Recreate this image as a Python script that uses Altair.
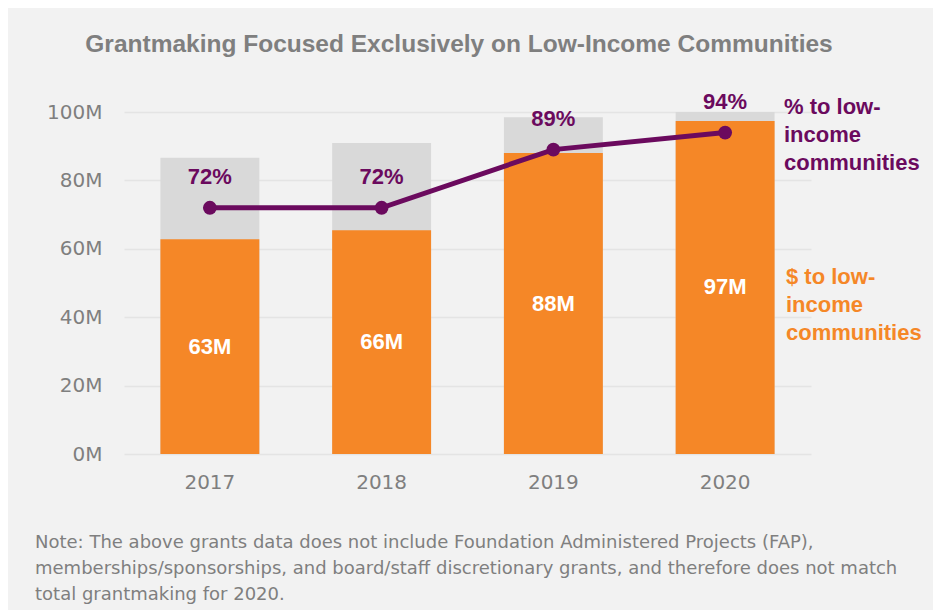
import altair as alt
import pandas as pd

years = ["2017", "2018", "2019", "2020"]
total_m = [86.6, 90.9, 98.5, 100.0]
low_income_m = [62.8, 65.4, 88.0, 97.4]
pct_low = [72, 72, 89, 94]
low_labels = ["63M", "66M", "88M", "97M"]
pct_labels = ["72%", "72%", "89%", "94%"]

title_text = "Grantmaking Focused Exclusively on Low-Income Communities"
note_lines = [
    "Note: The above grants data does not include Foundation Administered Projects (FAP),",
    "memberships/sponsorships, and board/staff discretionary grants, and therefore does not match",
    "total grantmaking for 2020.",
]
pct_note = ["% to low-", "income", "communities"]
usd_note = ["$ to low-", "income", "communities"]

ORANGE = "#F58727"
GRAY_BAR = "#D9D9D9"
PURPLE = "#6B0A5E"
TEXT_GRAY = "#7F7F7F"
FONT = "Liberation Sans"
FONT2 = "DejaVu Sans"

df = pd.DataFrame({
    "year": years,
    "total": total_m,
    "low": low_income_m,
    "low_mid": [v / 2 for v in low_income_m],
    "pct": pct_low,
    "low_label": low_labels,
    "pct_label": pct_labels,
})

W, H = 687, 342

x_enc = alt.X("year:N", title=None, sort=years,
              scale=alt.Scale(paddingInner=0.424, paddingOuter=0.212),
              axis=alt.Axis(labelAngle=0, labelFontSize=20, labelColor=TEXT_GRAY,
                            labelFont=FONT2, labelPadding=18, domain=False, ticks=False, grid=False))
y_scale = alt.Scale(domain=[0, 100], nice=False)
y_axis = alt.Axis(values=[0, 20, 40, 60, 80, 100], labelExpr="datum.value + 'M'",
                  labelFontSize=20, labelColor=TEXT_GRAY, labelFont=FONT2, labelPadding=22,
                  domain=False, ticks=False, gridColor="#E4E4E4", gridWidth=1.5)

base = alt.Chart(df)

gray_bars = base.mark_bar(color=GRAY_BAR).encode(
    x=x_enc, y=alt.Y("total:Q", scale=y_scale, axis=y_axis, title=None))
orange_bars = base.mark_bar(color=ORANGE).encode(
    x=x_enc, y=alt.Y("low:Q", scale=y_scale))
line = base.mark_line(color=PURPLE, strokeWidth=5).encode(
    x=x_enc, y=alt.Y("pct:Q", scale=y_scale))
points = base.mark_point(color=PURPLE, filled=True, opacity=1, size=190).encode(
    x=x_enc, y=alt.Y("pct:Q", scale=y_scale))
pct_text = base.mark_text(color=PURPLE, fontSize=22, fontWeight="bold", font=FONT,
                          dy=-31, baseline="middle").encode(
    x=x_enc, y=alt.Y("pct:Q", scale=y_scale), text="pct_label:N")
low_text = base.mark_text(color="white", fontSize=22, fontWeight="bold", font=FONT,
                          baseline="middle").encode(
    x=x_enc, y=alt.Y("low_mid:Q", scale=y_scale), text="low_label:N")

title = alt.Chart(pd.DataFrame({"t": [title_text]})).mark_text(
    fontSize=24.5, fontWeight="bold", font=FONT, color=TEXT_GRAY, align="center", baseline="middle"
).encode(x=alt.value(335), y=alt.value(-67), text="t:N")

note = alt.Chart(pd.DataFrame({"t": [note_lines]})).mark_text(
    fontSize=18, font=FONT2, color=TEXT_GRAY, align="left", baseline="middle", lineHeight=26
).encode(x=alt.value(-89), y=alt.value(431), text="t:N")

pct_ann = alt.Chart(pd.DataFrame({"t": [pct_note]})).mark_text(
    fontSize=22, fontWeight="bold", font=FONT, color=PURPLE, align="left", baseline="middle", lineHeight=28
).encode(x=alt.value(660), y=alt.value(-5), text="t:N")

usd_ann = alt.Chart(pd.DataFrame({"t": [usd_note]})).mark_text(
    fontSize=22, fontWeight="bold", font=FONT, color=ORANGE, align="left", baseline="middle", lineHeight=28
).encode(x=alt.value(662), y=alt.value(165), text="t:N")

chart = alt.layer(
    gray_bars, orange_bars, line, points, pct_text, low_text, title, note, pct_ann, usd_ann
).properties(
    width=W, height=H,
    autosize=alt.AutoSizeParams(type="none"),
    padding={"left": 116, "top": 104, "right": 122, "bottom": 156},
    background="#F2F2F2",
).configure_view(stroke=None)

chart.save("out.html", embed_options={"renderer": "svg", "actions": False})
